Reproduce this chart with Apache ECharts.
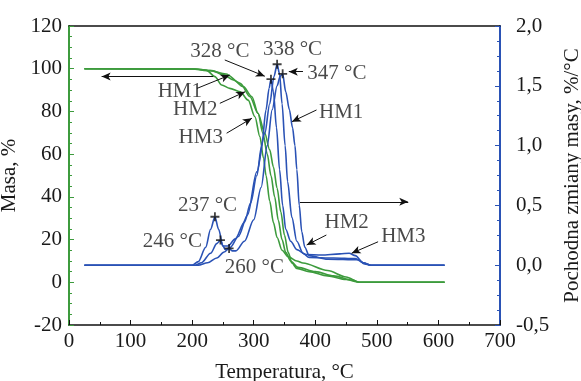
<!DOCTYPE html>
<html>
<head>
<meta charset="utf-8">
<script src="https://cdn.jsdelivr.net/npm/echarts@6/dist/echarts.min.js"></script>
<style>
  html, body { margin: 0; padding: 0; background: #fff; }
  #chart { width: 581px; height: 381px; }
</style>
</head>
<body>
<div id="chart"></div>
<script>
// masa, % (lewa oś) – [temperatura °C, masa %]
const massHM1 = [[25,100],[205,99.9],[229,99.1],[255,97.5],[278,93.2],[294,86.9],[307,79.1],[318,69.8],[326,62],[332,54],[338,44],[344,33],[350,22],[356,14],[362,9],[370,6.5],[390,5],[420,3],[450,1.3],[472,0],[610,0]];
const massHM2 = [[25,100],[205,99.9],[232,99.1],[251,97.1],[267,94.7],[283,91.6],[297,86.9],[307,79.1],[315,69.8],[322,60],[328,50],[334,40],[340,29],[346,20],[352,14],[360,10],[372,7],[400,5],[430,3],[460,1],[472,0],[610,0]];
const massHM3 = [[25,100],[200,99.9],[224,99.1],[237,96.3],[248,92.4],[261,90.8],[278,89.2],[291,85.3],[302,77.5],[310,68.2],[316,58],[320,50],[326,38],[332,28],[338,21],[346,15],[356,12],[370,10],[380,9],[420,5.5],[450,2.5],[472,0],[610,0]];

// pochodna zmiany masy, %/°C (prawa oś)
const dtgHM1 = [[25,0],[210,0],[225,0.02],[240,0.06],[252,0.11],[260,0.14],[265,0.12],[271,0.12],[285,0.2],[300,0.38],[312,0.65],[322,1.0],[330,1.3],[338,1.5],[343,1.58],[347,1.6],[352,1.45],[358,1.3],[363,1.15],[367,1.0],[370,0.8],[374,0.5],[378,0.28],[383,0.15],[390,0.08],[420,0.05],[470,0.045],[480,0.01],[490,0],[610,0]];
const dtgHM2 = [[25,0],[205,0],[215,0.02],[230,0.1],[240,0.18],[246,0.21],[250,0.16],[254,0.13],[262,0.15],[275,0.24],[290,0.42],[305,0.78],[318,1.1],[326,1.35],[333,1.58],[338,1.68],[342,1.6],[346,1.35],[351,1.0],[355,0.7],[362,0.4],[370,0.2],[380,0.1],[390,0.065],[430,0.06],[465,0.055],[478,0.02],[490,0],[610,0]];
const dtgHM3 = [[25,0],[200,0],[210,0.03],[222,0.15],[230,0.3],[237,0.405],[243,0.3],[250,0.16],[258,0.16],[270,0.22],[285,0.36],[295,0.52],[305,0.75],[313,1.0],[320,1.3],[325,1.48],[328,1.555],[332,1.45],[337,1.15],[342,0.8],[347,0.5],[352,0.3],[360,0.2],[370,0.13],[385,0.09],[410,0.085],[440,0.095],[455,0.1],[465,0.08],[478,0.02],[490,0],[610,0]];

// piki oznaczone gwiazdką
const peaks = [[237,0.405],[246,0.21],[260,0.14],[328,1.555],[338,1.68],[347,1.6]];

// opisy: [T, wartość, tekst]
const labelsLeft = [[180,89.4,"HM1"],[205,81.1,"HM2"],[214,67.8,"HM3"]];
const labelsRight = [[245,1.785,"328 °C"],[363,1.80,"338 °C"],[435,1.603,"347 °C"],[442,1.277,"HM1"],
  [225,0.503,"237 °C"],[168,0.2,"246 °C"],[301,-0.02,"260 °C"],[451,0.357,"HM2"],[543,0.24,"HM3"]];

// strzałki: [[T0, v0], [T1, v1]] – grot na końcu
const arrowsLeft = [[[234,96.3],[53,96.3]],[[208,90.8],[261,97.0]],[[245,83.8],[286,89.2]],[[256,69.8],[297,76.8]]];
const arrowsRight = [[[375,0.53],[551,0.53]],[[253,1.716],[318,1.58]],[[380,1.618],[357,1.618]],[[402,1.298],[362,1.2]],
  [[418,0.2525],[386,0.169]],[[502,0.196],[459,0.1]]];

const GREEN = "#3d9b3d";
const BLUE = "#2a52b5";
const FONT = "'Liberation Serif', 'DejaVu Serif', serif";
const txt = { color: "#1a1a1a", fontFamily: FONT, fontSize: 21 };

const comma = v => v.toFixed(1).replace(".", ",");

function labelSeries(data, yIdx, arrows) {
  return {
    type: "scatter",
    yAxisIndex: yIdx,
    symbolSize: 0,
    data: data,
    silent: true,
    label: {
      show: true,
      position: [0, 0],
      align: "center",
      verticalAlign: "middle",
      formatter: p => p.data[2],
      ...txt,
    },
    markLine: {
      silent: true,
      symbol: ["none", "arrow"],
      symbolSize: [6, 9],
      label: { show: false },
      lineStyle: { color: "#111", width: 1, type: "solid" },
      data: arrows.map(a => [{ coord: a[0] }, { coord: a[1] }]),
    },
  };
}

function curve(name, data, yIdx, color) {
  return {
    name: name,
    type: "line",
    yAxisIndex: yIdx,
    data: data,
    symbol: "none",
    smooth: 0.3,
    smoothMonotone: "x",
    lineStyle: { color: color, width: 1.6 },
    z: 2,
  };
}

const chart = echarts.init(document.getElementById("chart"));

chart.setOption({
  animation: false,
  backgroundColor: "#fff",
  grid: { left: 69, right: 81, top: 26, bottom: 56, containLabel: false, outerBoundsMode: "none" },
  xAxis: [
    {
      type: "value",
      min: 0, max: 700, interval: 100,
      name: "Temperatura, °C",
      nameLocation: "middle",
      nameGap: 37,
      nameTextStyle: txt,
      axisLine: { onZero: false, lineStyle: { color: "#111", width: 1.5 } },
      axisTick: { inside: true, length: 5, lineStyle: { color: "#111" } },
      minorTick: { show: true, splitNumber: 2, length: 3, lineStyle: { color: "#111" } },
      axisLabel: { ...txt, margin: 6 },
      splitLine: { show: false },
    },
    {
      type: "value",
      position: "top",
      min: 0, max: 700,
      axisLine: { onZero: false, lineStyle: { color: "#111", width: 1.5 } },
      axisTick: { show: false },
      axisLabel: { show: false },
      splitLine: { show: false },
    },
  ],
  yAxis: [
    {
      type: "value",
      min: -20, max: 120, interval: 20,
      name: "Masa, %",
      nameLocation: "middle",
      nameRotate: 90,
      nameGap: 36,
      nameTextStyle: txt,
      axisLine: { show: true, onZero: false, lineStyle: { color: GREEN, width: 2 } },
      axisTick: { inside: true, length: 5, lineStyle: { color: GREEN } },
      minorTick: { show: true, splitNumber: 4, length: 3, lineStyle: { color: GREEN } },
      axisLabel: { ...txt, margin: 7 },
      splitLine: { show: false },
    },
    {
      type: "value",
      position: "right",
      min: -0.5, max: 2.0, interval: 0.5,
      name: "Pochodna zmiany masy, %/°C",
      nameLocation: "middle",
      nameRotate: 90,
      nameGap: 62,
      nameTextStyle: txt,
      axisLine: { show: true, onZero: false, lineStyle: { color: BLUE, width: 2 } },
      axisTick: { inside: true, length: 5, lineStyle: { color: BLUE } },
      minorTick: { show: true, splitNumber: 4, length: 3, lineStyle: { color: BLUE } },
      axisLabel: { ...txt, margin: 16, formatter: comma },
      splitLine: { show: false },
    },
  ],
  series: [
    curve("HM1 masa", massHM1, 0, GREEN),
    curve("HM2 masa", massHM2, 0, GREEN),
    curve("HM3 masa", massHM3, 0, GREEN),
    curve("HM1 DTG", dtgHM1, 1, BLUE),
    curve("HM2 DTG", dtgHM2, 1, BLUE),
    curve("HM3 DTG", dtgHM3, 1, BLUE),
    {
      type: "scatter",
      yAxisIndex: 1,
      data: peaks,
      symbol: "path://M4,0H6V4H10V6H6V10H4V6H0V4H4Z",
      symbolSize: 9,
      itemStyle: { color: "#111" },
      z: 5,
    },
    labelSeries(labelsLeft, 0, arrowsLeft),
    labelSeries(labelsRight, 1, arrowsRight),
  ],
});
</script>
</body>
</html>
